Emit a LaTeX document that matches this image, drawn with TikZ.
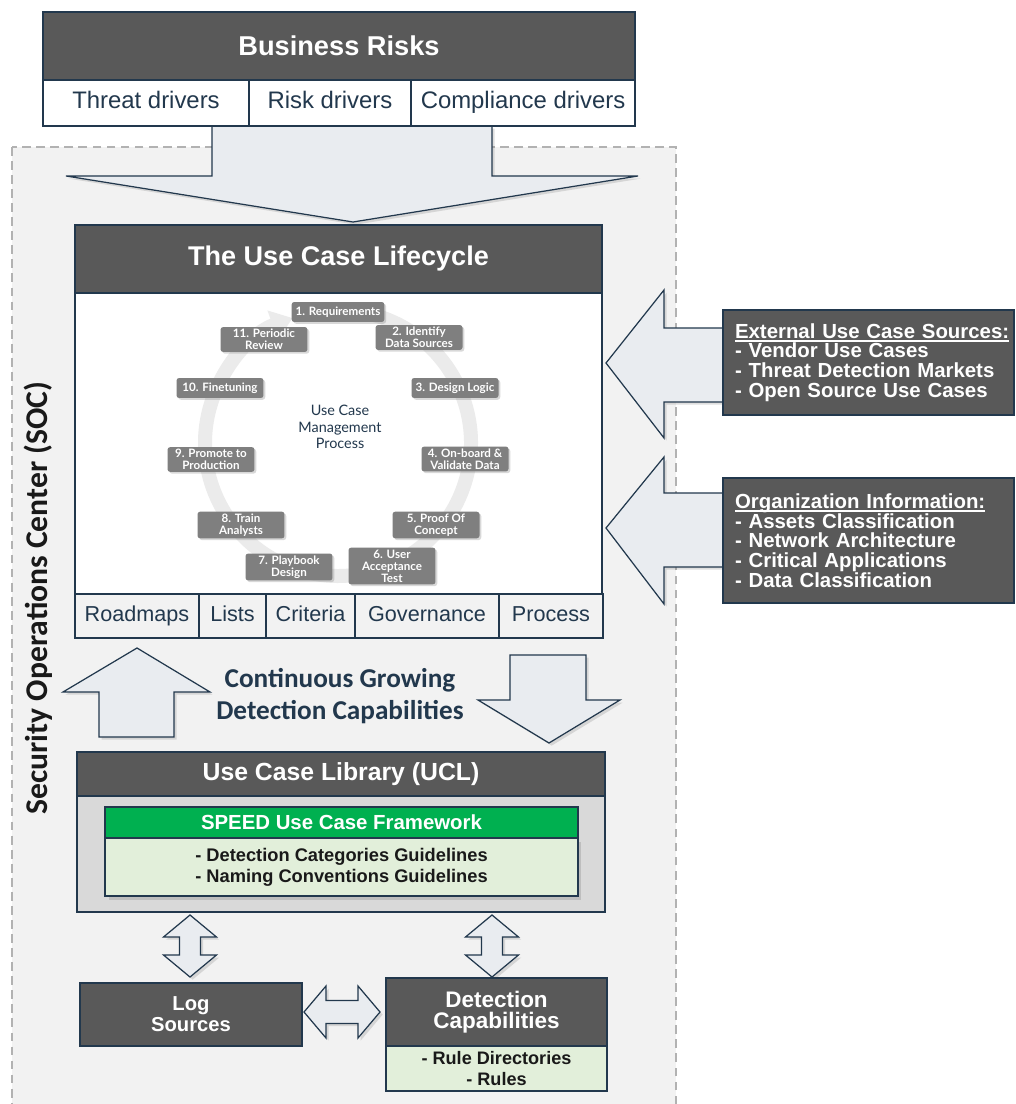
\documentclass[tikz,border=0pt]{standalone}
\usepackage{fontspec}
\setmainfont{Liberation Sans}
\newfontfamily\lato{Lato}
\newfontfamily\carlito{Carlito}
\usepackage{tikz}
\usetikzlibrary{arrows.meta}
\usetikzlibrary{positioning}
\usetikzlibrary{shadows}

\definecolor{navy}{HTML}{22384D}
\definecolor{hdrgray}{HTML}{595959}
\definecolor{stepgray}{HTML}{7F7F7F}
\definecolor{socbg}{HTML}{F2F2F2}
\definecolor{arrowfill}{HTML}{E9ECF0}
\definecolor{speedgreen}{HTML}{00B050}
\definecolor{lightgreen}{HTML}{E2EFDA}
\definecolor{uclgray}{HTML}{D9D9D9}
\definecolor{ringgray}{HTML}{EBEBEB}

\newcommand{\ulhead}[1]{\setbox0\hbox{#1}\rlap{\rule[-1.9pt]{\wd0}{0.8pt}}\box0}

\begin{document}
\begin{tikzpicture}
	[x=0.02cm,y=-0.02cm,
	hdr/.style={draw=navy,line width=0.7pt,fill=hdrgray,text=white,inner sep=0pt,align=center},
	cell/.style={draw=navy,line width=0.7pt,fill=white,text=navy,inner sep=0pt,minimum height=0.92cm,text height=0.78em,text depth=0.2em,font=\fontsize{13.6}{16}\selectfont},
	tab/.style={draw=navy,line width=0.7pt,fill=socbg,text=navy,inner sep=0pt,minimum height=0.88cm,text height=0.78em,text depth=0.2em,font=\fontsize{12.3}{14}\selectfont},
	stepbox/.style={rounded corners=1.5pt,fill=stepgray,text=white,inner xsep=0.08cm,inner ysep=0.04cm,minimum width=1.74cm,minimum height=0.4cm,align=center,font=\lato\bfseries\fontsize{6.6}{6.9}\selectfont,drop shadow={opacity=0.3,shadow xshift=1pt,shadow yshift=-1pt}},
	infobox/.style={draw=navy,line width=0.7pt,fill=hdrgray,text=white,inner xsep=0.24cm,inner ysep=0pt,text width=5.34cm,minimum width=5.82cm,align=left,font=\bfseries\fontsize{11.6}{11.2}\selectfont},
	greenbox/.style={draw=navy,line width=0.7pt,fill=lightgreen,inner sep=0pt,align=center,text=black!90},
	blockarrow/.style={draw=navy,line width=0.7pt,fill=arrowfill,line join=miter,drop shadow={opacity=0.25,shadow xshift=1.5pt,shadow yshift=-1.5pt}}]

	\useasboundingbox (0,0) rectangle (1015,1104);

	% SOC area
	\draw[draw=gray!60,fill=socbg,line width=0.8pt,dash pattern=on 5pt off 3pt] (12,147) rectangle (676,1130);
	\node[rotate=90,font=\carlito\bfseries\fontsize{18}{20}\selectfont,text=black!90] (soclabel) at (38,598) {Security Operations Center (SOC)};

	\draw[blockarrow] (212,126) -- (492,126) -- (492,176) -- (638,176) -- (353,222) -- (66,176) -- (212,176) -- cycle;

	% business risks
	\node[hdr,minimum width=11.84cm,minimum height=1.36cm,font=\bfseries\fontsize{15.5}{18}\selectfont] (risks) at (339,46) {Business Risks};
	\node[cell,minimum width=4.12cm] (threat) at (146,103) {Threat drivers};
	\node[cell,minimum width=3.24cm] (riskdrv) at (330,103) {Risk drivers};
	\node[cell,minimum width=4.48cm] (compl) at (523,103) {Compliance drivers};

	% lifecycle
	\node[hdr,minimum width=10.54cm,minimum height=1.36cm,font=\bfseries\fontsize{15.4}{18}\selectfont] (lchead) at (338.5,259) {The Use Case Lifecycle};
	\node[draw=navy,line width=0.7pt,fill=white,minimum width=10.54cm,minimum height=6.02cm,inner sep=0pt] (lcbody) at (338.5,443.5) {};
	\foreach \name/\cx/\w/\txt in {roadmaps/137/2.48/Roadmaps, lists/232.5/1.34/Lists, criteria/310.5/1.78/Criteria, governance/427/2.88/Governance, process/551/2.08/Process}
	\node[tab,minimum width=\w cm] (\name) at (\cx,616) {\txt};

	\begin{scope}[shift={(338,443)},y=0.02cm]
		\draw[line width=0.28cm,draw=ringgray,-{Triangle[length=0.42cm 0 0,width=0.6cm 0 0]}] (75:2.66cm) arc[start angle=75,end angle=-250,radius=2.66cm];
	\end{scope}

	\foreach \name/\cx/\cy/\txt in {s1/338/312/{1. Requirements}, s2/419/337.5/{2. Identify\\Data Sources}, s3/455/388/{3. Design Logic}, s4/465/459/{4. On-board \&\\Validate Data}, s5/436/525/{5. Proof Of\\Concept}, s6/392/566/{6. User\\Acceptance\\Test}, s7/289/567/{7. Playbook\\Design}, s8/241/525/{8. Train\\Analysts}, s9/211/459.5/{9. Promote to\\Production}, s10/220/388/{10. Finetuning}, s11/264/339.5/{11. Periodic\\Review}}
	\node[stepbox] (\name) at (\cx,\cy) {\txt};
	\node[font=\lato\fontsize{8.2}{9.4}\selectfont,text=navy,align=center] (ucmp) at (340,427) {Use Case\\Management\\Process};

	% inputs from the right
	\draw[blockarrow] (723,328) -- (664,328) -- (664,290) -- (606,363) -- (664,438) -- (664,402) -- (723,402) -- cycle;
	\draw[blockarrow] (723,493) -- (664,493) -- (664,457) -- (606,528) -- (664,604) -- (664,567) -- (723,567) -- cycle;
	\node[infobox,minimum height=2.1cm] (extsrc) at (868.5,362.5) {\ulhead{External Use Case Sources:}\\- Vendor Use Cases\\- Threat Detection Markets\\- Open Source Use Cases};
	\node[infobox,minimum height=2.5cm] (orginfo) at (868.5,540.5) {\ulhead{Organization Information:}\\- Assets Classification\\- Network Architecture\\- Critical Applications\\- Data Classification};

	% growing
	\draw[blockarrow] (99,737) -- (99,692) -- (63,692) -- (137,648) -- (210,692) -- (174,692) -- (174,737) -- cycle;
	\draw[blockarrow] (510,655) -- (586,655) -- (586,700) -- (620,700) -- (549,743) -- (478,700) -- (510,700) -- cycle;
	\node[font=\carlito\bfseries\fontsize{15.5}{18.7}\selectfont,text=navy,align=center] (grow) at (340,696) {Continuous Growing\\Detection Capabilities};

	% library
	\node[hdr,minimum width=10.56cm,minimum height=0.88cm,font=\bfseries\fontsize{14.1}{16}\selectfont] (uclhead) at (341,774) {Use Case Library (UCL)};
	\node[draw=navy,line width=0.7pt,fill=uclgray,minimum width=10.56cm,minimum height=2.32cm,inner sep=0pt] (uclbody) at (341,854) {};
	\node[greenbox,minimum width=9.46cm,minimum height=1.16cm,font=\bfseries\fontsize{10.4}{12}\selectfont,drop shadow={opacity=0.3,shadow xshift=2pt,shadow yshift=-2pt}] (speedbody) at (341.5,867) {- Detection Categories Guidelines\\- Naming Conventions Guidelines};
	\node[draw=navy,line width=0.7pt,fill=speedgreen,text=white,inner sep=0pt,minimum width=9.46cm,minimum height=0.62cm,font=\bfseries\fontsize{11.6}{13}\selectfont] (speedhead) at (341.5,822.5) {SPEED Use Case Framework};

	\foreach \cx in {190,492}
	\draw[blockarrow] (\cx,915) -- ++(26.5,22) -- ++(-16,0) -- ++(0,18) -- ++(16,0) -- (\cx,977) -- ++(-26.5,-22) -- ++(16,0) -- ++(0,-18) -- ++(-16,0) -- cycle;
	\draw[blockarrow] (304,1012) -- (326,986) -- (326,1000.5) -- (358,1000.5) -- (358,986) -- (380,1012) -- (358,1038) -- (358,1023.5) -- (326,1023.5) -- (326,1038) -- cycle;

	\node[hdr,minimum width=4.44cm,minimum height=1.26cm,font=\bfseries\fontsize{11.5}{12}\selectfont] (logsrc) at (191,1014.5) {Log\\Sources};
	\node[hdr,minimum width=4.42cm,minimum height=1.36cm,font=\bfseries\fontsize{12.8}{12.2}\selectfont] (detcap) at (496.5,1012) {Detection\\Capabilities};
	\node[greenbox,minimum width=4.42cm,minimum height=0.9cm,font=\bfseries\fontsize{10.3}{12.4}\selectfont] (rules) at (496.5,1068.5) {- Rule Directories\\- Rules};
\end{tikzpicture}
\end{document}
